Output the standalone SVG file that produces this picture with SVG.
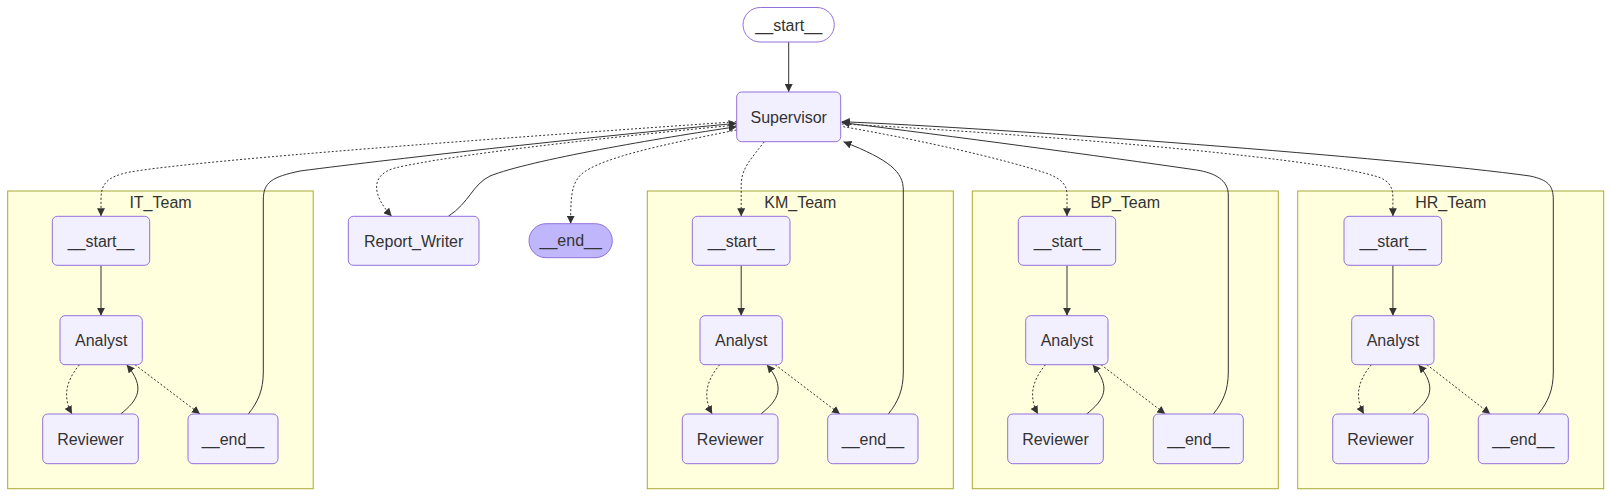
<svg xmlns="http://www.w3.org/2000/svg" width="1612" height="497" viewBox="0 0 1612 497">
<style>
.node rect{fill:#f2f0ff;stroke:#9370DB;stroke-width:1}
.node text,.cl text{font-family:"Liberation Sans",Arial,sans-serif;font-size:16px;fill:#333;text-anchor:middle}
.cl rect{fill:#ffffde;stroke:#aaaa33;stroke-width:1}
.first rect{fill:#ffffff}
.last rect{fill:#bfb6fc}
.e{fill:none;stroke:#333;stroke-width:1;marker-end:url(#arr)}
.d{stroke-dasharray:2 2}
</style>
<defs>
<marker id="arr" viewBox="0 0 10 10" refX="10" refY="5" markerWidth="8" markerHeight="8" markerUnits="userSpaceOnUse" orient="auto">
<path d="M0,0 L10,5 L0,10 z" fill="#333"/>
</marker>
</defs>
<rect width="1612" height="497" fill="#ffffff"/>

<g id="clusters">
<g id="IT_Team" class="cl"><rect x="7.7" y="191" width="305.5" height="297.7"/><text x="160.5" y="207.5">IT_Team</text></g>
<g id="KM_Team" class="cl"><rect x="647.3" y="191" width="306" height="297.7"/><text x="800.3" y="207.5">KM_Team</text></g>
<g id="BP_Team" class="cl"><rect x="972.3" y="191" width="306" height="297.7"/><text x="1125.3" y="207.5">BP_Team</text></g>
<g id="HR_Team" class="cl"><rect x="1297.7" y="191" width="306" height="297.7"/><text x="1450.7" y="207.5">HR_Team</text></g>
</g>

<g id="connectors">
<path class="e" d="M788.7,42 L788.7,92"/>
<path class="e d" d="M736.7,121.7 C500,138 200,160 130,172 C105,177 101,185 101,200 L101,216.3"/>
<path class="e" d="M248.3,414 C258,402 263.3,390 263.3,372 L263.3,200 C263.3,182 272,177 300,171 C400,158 600,136 736.7,123.3"/>
<path class="e d" d="M736.7,125 C600,138 450,155 395,168 C370,175 372,195 391.7,216.3"/>
<path class="e" d="M448.3,216.3 C470,202 472,185 490,176 C530,160 660,138 736.7,126.7"/>
<path class="e d" d="M736.7,130 C660,145 590,160 578,178 C571,188 570.7,200 570.7,223.7"/>
<path class="e d" d="M764.3,141.7 C752,158 741.2,168 741.2,185 L741.2,216.3"/>
<path class="e" d="M888.3,414 C898,402 903.3,390 903.3,372 L903.3,190 C903.3,172 890,160 843.5,141.7"/>
<path class="e d" d="M843.3,126.7 C920,140 1000,158 1046.7,173.3 C1062,179 1067,185 1067,195 L1067,216.3"/>
<path class="e" d="M1213.3,414 C1223,402 1228.3,390 1228.3,372 L1228.3,195 C1228.3,180 1215,173 1196.7,170 C1100,156 950,136 841.7,122.5"/>
<path class="e d" d="M841.7,124 C1000,132 1300,155 1375,176 C1390,180 1392.9,188 1392.9,198 L1392.9,216.3"/>
<path class="e" d="M1538.3,414 C1548,402 1553.3,390 1553.3,372 L1553.3,200 C1553.3,185 1548,180 1530,176 C1400,158 1000,128 841.7,121.7"/>

<path class="e" d="M101,265.3 L101,315.7"/>
<path class="e d" d="M79.5,364.7 C65,382 63,398 72,414"/>
<path class="e" d="M120.7,414 C138,400 146,388 126.7,364.7"/>
<path class="e d" d="M135,364.7 L200,414"/>

<path class="e" d="M741.2,265.3 L741.2,315.7"/>
<path class="e d" d="M719.7,364.7 C705.2,382 703.2,398 712.2,414"/>
<path class="e" d="M760.9,414 C778.2,400 786.2,388 766.9,364.7"/>
<path class="e d" d="M775.2,364.7 L839.9,414"/>

<path class="e" d="M1067,265.3 L1067,315.7"/>
<path class="e d" d="M1045.5,364.7 C1031,382 1029,398 1038,414"/>
<path class="e" d="M1086.7,414 C1104,400 1112,388 1092.7,364.7"/>
<path class="e d" d="M1101,364.7 L1165.3,414"/>

<path class="e" d="M1392.9,265.3 L1392.9,315.7"/>
<path class="e d" d="M1371.4,364.7 C1356.9,382 1354.9,398 1363.9,414"/>
<path class="e" d="M1412.6,414 C1429.9,400 1437.9,388 1418.6,364.7"/>
<path class="e d" d="M1426.9,364.7 L1490.3,414"/>
</g>

<g id="start" class="node first"><rect x="743" y="7.5" width="91.3" height="34.5" rx="17.25"/><text x="788.7" y="30.5">__start__</text></g>
<g id="Supervisor" class="node"><rect x="736.7" y="92" width="104" height="49.7" rx="5"/><text x="788.7" y="122.5">Supervisor</text></g>
<g id="Report_Writer" class="node"><rect x="348.3" y="216.3" width="130.7" height="49" rx="5"/><text x="413.7" y="246.5">Report_Writer</text></g>
<g id="end" class="node last"><rect x="529" y="223.7" width="83.3" height="34" rx="17"/><text x="570.7" y="246.4">__end__</text></g>

<g id="IT_start" class="node"><rect x="52.3" y="216.3" width="97.4" height="49" rx="5"/><text x="101" y="246.5">__start__</text></g>
<g id="IT_Analyst" class="node"><rect x="60" y="315.7" width="82.3" height="49" rx="5"/><text x="101.2" y="345.9">Analyst</text></g>
<g id="IT_Reviewer" class="node"><rect x="42.7" y="414" width="95.6" height="49.7" rx="5"/><text x="90.5" y="444.5">Reviewer</text></g>
<g id="IT_end" class="node"><rect x="188" y="414" width="90" height="49.7" rx="5"/><text x="233" y="444.5">__end__</text></g>

<g id="KM_start" class="node"><rect x="692.3" y="216.3" width="97.7" height="49" rx="5"/><text x="741.2" y="246.5">__start__</text></g>
<g id="KM_Analyst" class="node"><rect x="700" y="315.7" width="82.3" height="49" rx="5"/><text x="741.2" y="345.9">Analyst</text></g>
<g id="KM_Reviewer" class="node"><rect x="682.3" y="414" width="95.7" height="49.7" rx="5"/><text x="730.2" y="444.5">Reviewer</text></g>
<g id="KM_end" class="node"><rect x="827.7" y="414" width="90.3" height="49.7" rx="5"/><text x="872.9" y="444.5">__end__</text></g>

<g id="BP_start" class="node"><rect x="1018.3" y="216.3" width="97.4" height="49" rx="5"/><text x="1067" y="246.5">__start__</text></g>
<g id="BP_Analyst" class="node"><rect x="1025.7" y="315.7" width="82.3" height="49" rx="5"/><text x="1066.9" y="345.9">Analyst</text></g>
<g id="BP_Reviewer" class="node"><rect x="1007.7" y="414" width="95.6" height="49.7" rx="5"/><text x="1055.5" y="444.5">Reviewer</text></g>
<g id="BP_end" class="node"><rect x="1153.3" y="414" width="90" height="49.7" rx="5"/><text x="1198.3" y="444.5">__end__</text></g>

<g id="HR_start" class="node"><rect x="1344" y="216.3" width="97.7" height="49" rx="5"/><text x="1392.9" y="246.5">__start__</text></g>
<g id="HR_Analyst" class="node"><rect x="1351.7" y="315.7" width="82.3" height="49" rx="5"/><text x="1392.9" y="345.9">Analyst</text></g>
<g id="HR_Reviewer" class="node"><rect x="1332.7" y="414" width="95.6" height="49.7" rx="5"/><text x="1380.5" y="444.5">Reviewer</text></g>
<g id="HR_end" class="node"><rect x="1478.3" y="414" width="90" height="49.7" rx="5"/><text x="1523.3" y="444.5">__end__</text></g>
</svg>
